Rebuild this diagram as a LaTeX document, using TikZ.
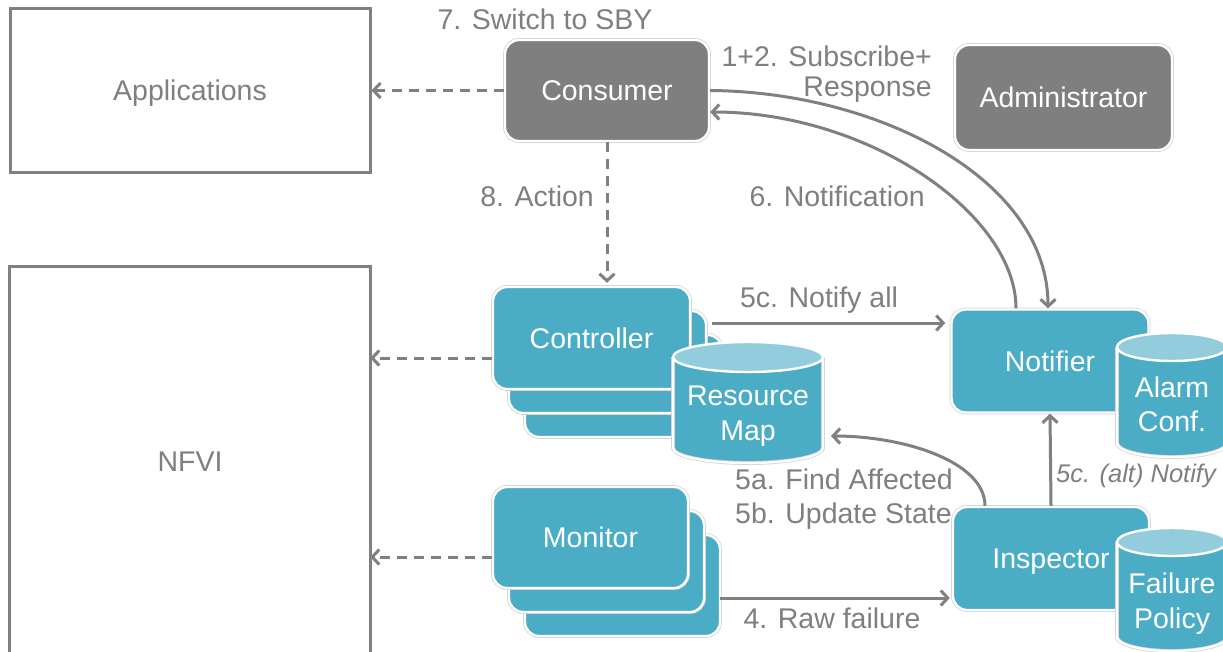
\documentclass[tikz,border=0pt]{standalone}
\usepackage{fontspec}
\setmainfont{Liberation Sans}
\usetikzlibrary{arrows.meta,calc}
\definecolor{txtgray}{HTML}{7F7F7F}
\definecolor{linegray}{HTML}{808080}
\definecolor{tealc}{HTML}{4BACC6}
\definecolor{tealtop}{HTML}{93CDDD}
\definecolor{boxgray}{HTML}{7F7F7F}
\tikzset{
  lbl/.style={text=txtgray, font=\fontsize{28.5}{34}\selectfont, inner sep=0pt},
  plainbox/.style={draw=linegray, line width=3pt, text=txtgray, font=\fontsize{28.5}{34}\selectfont, text depth=0pt},
  rbox/.style={rounded corners=14pt, line width=2.4pt, draw=white,
     preaction={draw=black!18, line width=3.8pt},
     text=white, font=\fontsize{28.5}{34}\selectfont, inner sep=0pt, text depth=0pt},
  tealbox/.style={rbox, fill=tealc},
  graybox/.style={rbox, fill=boxgray},
  cyltext/.style={text=white, font=\fontsize{28.5}{34}\selectfont, align=center, inner sep=0pt},
  arr/.style={draw=linegray, line width=3pt, -{Straight Barb[length=7pt,width=15pt]}},
  dasharr/.style={arr, dash pattern=on 10pt off 7pt},
}
\newcommand\cylfig[5]{% cx, top-center y, bottom-center y, half width, ry
  \fill[tealc] (#1-#4,#2) rectangle (#1+#4,#3);
  \fill[tealc] (#1,#3) ellipse [x radius=#4, y radius=#5];
  \draw[white, line width=2.4pt, preaction={draw=black!18, line width=3.8pt}]
     (#1-#4,#2) -- (#1-#4,#3) arc[start angle=180, end angle=0, x radius=#4, y radius=#5] -- (#1+#4,#2);
  \filldraw[fill=tealtop, draw=white, line width=2.4pt] (#1,#2) ellipse [x radius=#4, y radius=#5];
}
\begin{document}
\begin{tikzpicture}[x=1pt,y=-1pt]
\useasboundingbox (0,0) rectangle (1223,651);
\clip (0,0) rectangle (1223,651);
\fill[white] (0,0) rectangle (1223,651);

% plain boxes
\node[plainbox, minimum width=360pt, minimum height=164pt] (apps) at (190,90) {Applications};
\node[minimum width=360pt, minimum height=400pt] (nfvi) at (190,467) {};
\node[lbl] (nfvilbl) at (190,462) {NFVI};
\draw[linegray, line width=3pt] (nfvi.south west) -- (nfvi.north west) -- (nfvi.north east) -- (nfvi.south east);

% gray boxes
\node[graybox, minimum width=204pt, minimum height=101pt] (cons) at (607,90.5) {Consumer};
\node[graybox, minimum width=217pt, minimum height=105pt] (admin) at (1063.5,97.5) {Administrator};

% controller stack
\node[tealbox, minimum width=197pt, minimum height=102pt] (ctrl3) at (623.5,386) {};
\node[tealbox, minimum width=197pt, minimum height=102pt] (ctrl2) at (607.5,362) {};
\node[tealbox, minimum width=197pt, minimum height=102pt] (ctrl) at (591.5,338) {Controller};
% monitor stack
\node[tealbox, minimum width=195pt, minimum height=101pt] (mon3) at (622.5,585.5) {};
\node[tealbox, minimum width=195pt, minimum height=101pt] (mon2) at (606.5,561.5) {};
\node[tealbox, minimum width=195pt, minimum height=101pt] (mon) at (590.5,537.5) {Monitor};

% resource map
\cylfig{748}{357}{448}{75}{15}
\node[cyltext, minimum width=150pt] (rmap) at (748,416) {Resource\\[1pt]Map};

% notifier & inspector
\node[tealbox, minimum width=197pt, minimum height=103pt] (notif) at (1050,361) {Notifier};
\node[tealbox, minimum width=196pt, minimum height=103pt] (insp) at (1051,558.5) {Inspector};
\cylfig{1172}{347}{443}{55}{14}
\node[cyltext] (alarm) at (1172,404) {Alarm\\Conf.};
\cylfig{1172}{542}{637}{55}{14}
\node[cyltext] (fpol) at (1172,604) {Failure\\[1pt]Policy};

% labels
\node[lbl] (l7) at (545,19) {7. Switch to SBY};
\node[lbl, align=right, anchor=east, font=\fontsize{28.5}{30}\selectfont] (l12) at (932,74) {1+2. Subscribe+\\Response};
\node[lbl, anchor=east] (l6) at (925,196) {6. Notification};
\node[lbl, anchor=east] (l8) at (594,196) {8. Action};
\node[lbl] (l5c) at (819,300) {5c. Notify all};
\node[lbl, align=left, anchor=west] (l5ab) at (735,499) {5a. Find Affected\\5b. Update State};
\node[lbl] (l4) at (832,618) {4. Raw failure};
\node[lbl, font=\fontsize{25.5}{30}\selectfont\itshape, anchor=east] (l5alt) at (1216,476) {5c. (alt) Notify};

% coordinates
\coordinate (rmapR) at (831,436);
\coordinate (ctrlR) at (712,323);
\coordinate (monR) at (720,598);

% connectors
\draw[dasharr] (cons.west) -- (apps.east |- cons.west);
\draw[dasharr, shorten >=3pt] (cons.south) -- (cons.south |- ctrl.north);
\draw[dasharr] (ctrl.west |- 0,358) -- (nfvi.east |- 0,358);
\draw[dasharr] (mon.west |- 0,557) -- (nfvi.east |- 0,557);
\draw[arr, shorten >=5pt] (ctrlR) -- (notif.west |- ctrlR);
\draw[arr, shorten >=2pt] (monR) -- (insp.west |- monR);
\draw[arr] (insp.north) -- (notif.south);
\draw[arr] (insp.north -| 985,0) .. controls (985,462) and (905,436) .. (rmapR);
\draw[arr] (cons.east) .. controls (880,92) and (1048,180) .. (notif.north -| 1048,0);
\draw[arr] (notif.north -| 1016,0) .. controls (1016,215) and (870,112) .. (cons.east |- 0,112);
\end{tikzpicture}
\end{document}
